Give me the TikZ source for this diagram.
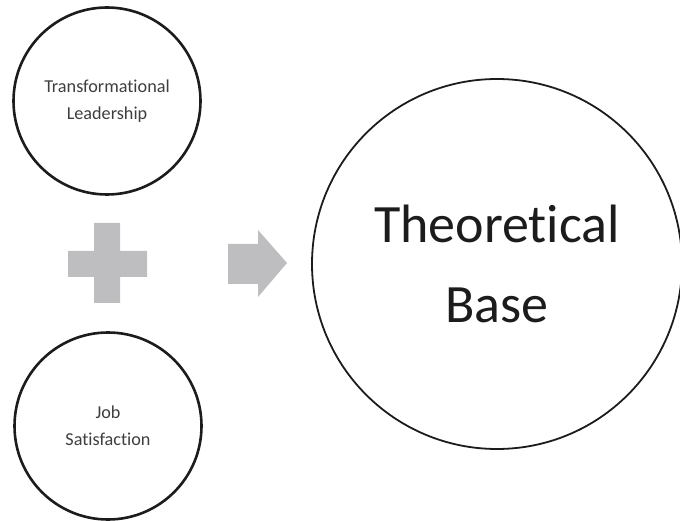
\documentclass[tikz,border=0pt]{standalone}
\usepackage{fontspec}
\setmainfont{Carlito}[Ligatures=NoCommon]
\usetikzlibrary{positioning}
\definecolor{ink}{RGB}{28,28,28}
\definecolor{signgray}{RGB}{190,190,192}

\begin{document}
\begin{tikzpicture}[
  x=1pt, y=-1pt,
  idea/.style={circle, draw=ink, line width=2.6pt, minimum size=187pt, inner sep=0pt,
               align=center, font=\fontsize{18.2}{27}\selectfont, text=ink!85},
  base/.style={circle, draw=ink, line width=1.8pt, minimum size=370pt, inner sep=0pt,
               align=center, font=\fontsize{54}{82}\selectfont, text=ink},
  sign/.style={fill=signgray, draw=none},
]
\useasboundingbox (0,0) rectangle (680,521);
\node[idea] (lead) at (107,101) {Transformational\\Leadership};
\node[idea] (sat) at (108,426) {Job\\Satisfaction};
\node[base] (theory) at (497,264) {Theoretical\\[-2pt]Base};
% plus sign between the two inputs
\fill[sign] (94,223) -- (120,223) -- (120,251) -- (147,251) -- (147,277) -- (120,277)
  -- (120,303) -- (94,303) -- (94,277) -- (68,277) -- (68,251) -- (94,251) -- cycle;
% block arrow pointing at the result
\fill[sign] (228,244) -- (258,244) -- (258,230) -- (287,263) -- (258,297) -- (258,284)
  -- (228,284) -- cycle;
\end{tikzpicture}
\end{document}
